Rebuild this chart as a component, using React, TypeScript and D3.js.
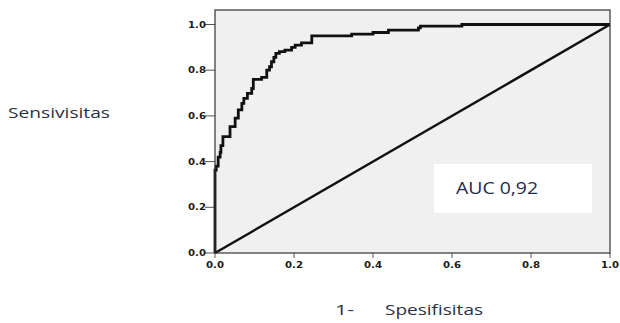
import React from "react";
import * as d3 from "d3";

// ROC curve vertices: false positive rate (1 - specificity) and sensitivity
const fpr = [0, 0.003, 0.008, 0.013, 0.015, 0.02, 0.038, 0.051, 0.059, 0.068, 0.073, 0.082, 0.093, 0.097, 0.118, 0.131, 0.138, 0.143, 0.149, 0.154, 0.163, 0.177, 0.194, 0.203, 0.219, 0.245, 0.346, 0.4, 0.439, 0.515, 0.52, 0.625, 1.0];
const tpr = [0, 0.363, 0.38, 0.42, 0.44, 0.47, 0.509, 0.553, 0.59, 0.626, 0.655, 0.677, 0.699, 0.72, 0.76, 0.769, 0.8, 0.815, 0.837, 0.856, 0.874, 0.881, 0.888, 0.9, 0.91, 0.92, 0.95, 0.958, 0.965, 0.975, 0.985, 0.993, 1.0];

const tickValues = [0, 0.2, 0.4, 0.6, 0.8, 1.0];
const yTitle = "Sensivisitas";
const xTitlePrefix = "1-";
const xTitle = "Spesifisitas";
const aucLabel = "AUC 0,92";

const W = 620;
const H = 323;
const left = 215;
const right = 610;
const top = 10;
const bottom = 253;

export default function App() {
  const x = d3.scaleLinear().domain([0, 1]).range([left, right]);
  const y = d3.scaleLinear().domain([0, 1]).range([bottom, 24.5]);

  const pts: [number, number][] = fpr.map((f, i) => [f, tpr[i]]);
  const roc = d3
    .line<[number, number]>()
    .x((d) => x(d[0]))
    .y((d) => y(d[1]))
    .curve(d3.curveStepBefore)(pts) as string;
  const diag = d3
    .line<[number, number]>()
    .x((d) => x(d[0]))
    .y((d) => y(d[1]))([
    [0, 0],
    [1, 1],
  ]) as string;

  const fmt = d3.format(".1f");
  const tickFont = {
    fontFamily: "DejaVu Sans, sans-serif",
    fontWeight: 700,
    fontSize: 9,
    fill: "#1a1a1a",
    textLength: 18,
    lengthAdjust: "spacingAndGlyphs",
  } as const;
  const titleFont = "Open Sans, sans-serif";

  return (
    <svg
      width={W}
      height={H}
      style={{ position: "absolute", left: 0, top: 0, background: "#fff" }}
    >
      <rect x={left} y={top} width={right - left} height={bottom - top} fill="#f0f0f0" />

      {/* y axis ticks and labels */}
      {tickValues.map((t) => (
        <g key={"y" + t}>
          <line x1={left - 10} x2={left} y1={y(t)} y2={y(t)} stroke="#555" strokeWidth={1} />
          <text x={left - 9} y={y(t)} dy="0.35em" textAnchor="end" {...tickFont}>
            {fmt(t)}
          </text>
        </g>
      ))}

      {/* x axis ticks and labels */}
      {tickValues.map((t) => (
        <g key={"x" + t}>
          <line x1={x(t)} x2={x(t)} y1={bottom} y2={bottom + 5} stroke="#555" strokeWidth={1} />
          <text x={x(t)} y={bottom + 15} textAnchor="middle" {...tickFont}>
            {fmt(t)}
          </text>
        </g>
      ))}

      <path d={diag} fill="none" stroke="#111" strokeWidth={2.4} />
      <path d={roc} fill="none" stroke="#111" strokeWidth={2.8} strokeLinejoin="miter" />

      <rect
        x={left}
        y={top}
        width={right - left}
        height={bottom - top}
        fill="none"
        stroke="#333"
        strokeWidth={1.2}
      />

      {/* AUC annotation */}
      <rect x={434} y={164} width={158} height={49} fill="#fff" />
      <text
        x={456}
        y={194}
        fontFamily={titleFont}
        fontSize={17}
        fill="#1f2b47"
        textLength={82}
        lengthAdjust="spacingAndGlyphs"
      >
        {aucLabel}
      </text>

      {/* axis titles */}
      <text
        x={8}
        y={118}
        fontFamily={titleFont}
        fontSize={14}
        fill="#2a3142"
        textLength={102}
        lengthAdjust="spacingAndGlyphs"
      >
        {yTitle}
      </text>
      <text x={335} y={315} fontFamily={titleFont} fontSize={14} fill="#2a3142" textLength={19} lengthAdjust="spacingAndGlyphs">
        {xTitlePrefix}
      </text>
      <text
        x={385}
        y={315}
        fontFamily={titleFont}
        fontSize={14}
        fill="#2a3142"
        textLength={98}
        lengthAdjust="spacingAndGlyphs"
      >
        {xTitle}
      </text>
    </svg>
  );
}
